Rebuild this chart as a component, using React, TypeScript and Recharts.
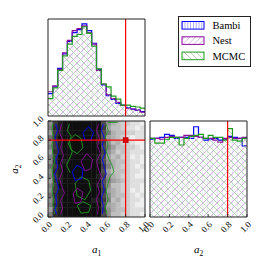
import React from "react";
import { ComposedChart, Area, Line, Scatter, XAxis, YAxis, ReferenceLine, ReferenceDot, Legend } from "recharts";

const SIZE = 266;
const FONT = "'Liberation Serif', 'DejaVu Serif', serif";
const INK = "#222222";
const RED = "#ff0000";

const SERIES = [
  { key: "bambi", name: "Bambi", color: "#0000ff", hatch: "vert" },
  { key: "nest", name: "Nest", color: "#8b0a9b", hatch: "fwd" },
  { key: "mcmc", name: "MCMC", color: "#1f9a1f", hatch: "back" },
];

const BIN_EDGES = [0, 0.05, 0.1, 0.15, 0.2, 0.25, 0.3, 0.35, 0.4, 0.45, 0.5, 0.55, 0.6, 0.65, 0.7, 0.75, 0.8, 0.85, 0.9, 0.95, 1];
const TICKS = [0, 0.2, 0.4, 0.6, 0.8, 1];
const TICK_LABELS = ["0.0", "0.2", "0.4", "0.6", "0.8", "1.0"];
const TRUE_A1 = 0.8;
const TRUE_A2 = 0.8;

// marginal histograms, heights as a fraction of the panel
const A1_BAMBI = [0.23, 0.3, 0.49, 0.64, 0.77, 0.86, 0.89, 0.95, 0.88, 0.75, 0.48, 0.32, 0.21, 0.17, 0.13, 0.11, 0.085, 0.07, 0.06, 0.045];
const A1_NEST = [0.25, 0.31, 0.48, 0.65, 0.78, 0.88, 0.9, 0.93, 0.86, 0.74, 0.47, 0.33, 0.22, 0.18, 0.14, 0.11, 0.08, 0.072, 0.062, 0.04];
const A1_MCMC = [0.18, 0.29, 0.47, 0.62, 0.74, 0.82, 0.84, 0.92, 0.855, 0.72, 0.485, 0.33, 0.3, 0.205, 0.175, 0.113, 0.113, 0.1, 0.093, 0.082];

const A2_BAMBI = [0.81, 0.82, 0.83, 0.86, 0.85, 0.82, 0.83, 0.83, 0.82, 0.94, 0.83, 0.8, 0.81, 0.82, 0.8, 0.81, 0.84, 0.83, 0.82, 0.74];
const A2_NEST = [0.82, 0.82, 0.81, 0.83, 0.84, 0.83, 0.83, 0.85, 0.85, 0.84, 0.83, 0.82, 0.82, 0.8, 0.78, 0.82, 0.83, 0.82, 0.82, 0.83];
const A2_MCMC = [0.82, 0.77, 0.77, 0.81, 0.83, 0.83, 0.75, 0.82, 0.84, 0.85, 0.86, 0.82, 0.85, 0.83, 0.83, 0.8, 0.92, 0.8, 0.79, 0.82];

// 2D density, one hex digit per cell (0 white .. f black), rows from a2=1 down to a2=0
const DENSITY_ROWS = [
  "7ceffffffffb75433221",
  "8deffffffffc64432212",
  "6cefffffffeb85443322",
  "9dffffffffeb65432122",
  "7cefffffffec74533211",
  "8ceffffffffb86443321",
  "6deffffffffc75343222",
  "8cffffffffeb64533121",
  "7dfeffffffeb75443221",
  "9ceffffffffc85433212",
  "7deffffffffb64443221",
  "8cefffffffec75433211",
  "6deffffffffb86543222",
  "8cffffffffeb74433221",
  "7ceffffffffc65433121",
  "9deffffffffb75443212",
  "7ceffffffeec84533221",
  "8deffffffffb65433211",
  "6ceffffffffc75443222",
  "8deffffffffb74433221",
];

// contour lines of the 2D panel, [a1, a2]
const CONTOURS = [
  { s: "mcmc", pts: [[0.05, 0.97], [0.04, 0.9], [0.06, 0.82], [0.04, 0.75], [0.05, 0.66], [0.07, 0.58], [0.04, 0.5], [0.05, 0.42], [0.06, 0.35], [0.04, 0.27], [0.06, 0.2], [0.05, 0.12], [0.08, 0.07], [0.06, 0.03]] },
  { s: "bambi", pts: [[0.08, 0.97], [0.1, 0.9], [0.07, 0.83], [0.09, 0.76], [0.11, 0.68], [0.08, 0.6], [0.1, 0.52], [0.07, 0.45], [0.09, 0.37], [0.11, 0.3], [0.08, 0.22], [0.09, 0.14], [0.07, 0.08], [0.09, 0.03]] },
  { s: "nest", pts: [[0.14, 0.97], [0.12, 0.88], [0.15, 0.8], [0.13, 0.72], [0.16, 0.64], [0.13, 0.56], [0.15, 0.48], [0.12, 0.4], [0.14, 0.32], [0.17, 0.25], [0.13, 0.17], [0.15, 0.09], [0.13, 0.03]] },
  { s: "mcmc", pts: [[0.22, 0.97], [0.2, 0.9], [0.24, 0.84], [0.21, 0.76], [0.25, 0.68], [0.22, 0.6], [0.19, 0.54], [0.23, 0.46]] },
  { s: "nest", pts: [[0.52, 0.97], [0.5, 0.9], [0.53, 0.82], [0.51, 0.74], [0.54, 0.66], [0.5, 0.58], [0.52, 0.5], [0.55, 0.42], [0.51, 0.34], [0.53, 0.26], [0.5, 0.18], [0.52, 0.1], [0.51, 0.03]] },
  { s: "bambi", pts: [[0.57, 0.97], [0.55, 0.9], [0.58, 0.83], [0.56, 0.75], [0.59, 0.67], [0.56, 0.6], [0.58, 0.52], [0.6, 0.45], [0.56, 0.37], [0.58, 0.28], [0.55, 0.2], [0.57, 0.12], [0.56, 0.03]] },
  { s: "mcmc", pts: [[0.6, 0.97], [0.62, 0.9], [0.59, 0.83], [0.62, 0.76], [0.6, 0.68], [0.63, 0.6], [0.66, 0.54], [0.68, 0.47], [0.64, 0.42], [0.62, 0.35], [0.6, 0.27], [0.62, 0.18], [0.59, 0.1], [0.61, 0.03]] },
  { s: "mcmc", pts: [[0.62, 0.985], [0.72, 0.985]] },
  { s: "mcmc", pts: [[0.22, 0.8], [0.28, 0.86], [0.34, 0.82], [0.36, 0.72], [0.3, 0.66], [0.24, 0.7], [0.22, 0.8]] },
  { s: "mcmc", pts: [[0.28, 0.35], [0.34, 0.42], [0.42, 0.38], [0.44, 0.28], [0.38, 0.18], [0.3, 0.22], [0.28, 0.35]] },
  { s: "mcmc", pts: [[0.3, 0.12], [0.36, 0.16], [0.44, 0.12], [0.42, 0.05], [0.34, 0.04], [0.3, 0.12]] },
  { s: "nest", pts: [[0.34, 0.58], [0.4, 0.66], [0.46, 0.6], [0.44, 0.5], [0.38, 0.48], [0.34, 0.58]] },
  { s: "nest", pts: [[0.26, 0.24], [0.3, 0.3], [0.36, 0.26], [0.34, 0.16], [0.28, 0.14], [0.26, 0.24]] },
  { s: "bambi", pts: [[0.25, 0.47], [0.3, 0.54], [0.36, 0.5], [0.35, 0.4], [0.28, 0.38], [0.25, 0.47]] },
  { s: "bambi", pts: [[0.36, 0.88], [0.42, 0.94], [0.47, 0.88], [0.44, 0.8], [0.38, 0.8], [0.36, 0.88]] },
];

const colorOf = (key: string) => SERIES.find((s) => s.key === key)!.color;

const histTable = (bambi: number[], nest: number[], mcmc: number[]) =>
  BIN_EDGES.map((x, i) => {
    const j = Math.min(i, bambi.length - 1);
    return { x, bambi: bambi[j], nest: nest[j], mcmc: mcmc[j] };
  });

const densityCells = DENSITY_ROWS.flatMap((row, r) =>
  row.split("").map((ch, c) => ({
    x: (BIN_EDGES[c] + BIN_EDGES[c + 1]) / 2,
    y: (BIN_EDGES[19 - r] + BIN_EDGES[20 - r]) / 2,
    v: parseInt(ch, 16),
  }))
);

const hatchDefs = (id: string) => (
  <defs>
    <pattern id={`${id}-vert`} width={5} height={5} patternUnits="userSpaceOnUse">
      <path d="M2.5,0 V5" stroke="#7a7aff" strokeWidth={0.6} strokeOpacity={0.25} />
    </pattern>
    <pattern id={`${id}-fwd`} width={7} height={7} patternUnits="userSpaceOnUse">
      <path d="M-1,1 L1,-1 M0,7 L7,0 M6,8 L8,6" stroke="#c690d2" strokeWidth={0.7} />
    </pattern>
    <pattern id={`${id}-back`} width={7} height={7} patternUnits="userSpaceOnUse">
      <path d="M-1,6 L1,8 M0,0 L7,7 M6,-1 L8,1" stroke="#93cf93" strokeWidth={0.7} />
    </pattern>
  </defs>
);

const tickText = { fontSize: 9, fontFamily: FONT, fill: "#000" };

const XTick = (p: any) => {
  const label = TICK_LABELS[TICKS.indexOf(p.payload.value)];
  const cx = p.x - 1.5;
  const cy = p.y + 10;
  return (
    <text x={cx} y={cy} textAnchor="middle" dominantBaseline="central" transform={`rotate(-45 ${cx} ${cy})`} {...tickText}>
      {label}
    </text>
  );
};

const YTick = (p: any) => {
  const label = TICK_LABELS[TICKS.indexOf(p.payload.value)];
  const cx = p.x - 10;
  const cy = p.y + 0.5;
  return (
    <text x={cx} y={cy} textAnchor="middle" dominantBaseline="central" transform={`rotate(-45 ${cx} ${cy})`} {...tickText}>
      {label}
    </text>
  );
};

const titleText = (sub: string, x: number, y: number, rotate?: number) => (
  <text x={x} y={y} textAnchor="middle" transform={rotate ? `rotate(${rotate} ${x} ${y})` : undefined} fontFamily={FONT} fontSize={11} fill="#000">
    <tspan fontStyle="italic">a</tspan>
    <tspan fontSize={7.5} dy={2.5}>{sub}</tspan>
  </text>
);

const xTitle = (sub: string) => (props: any) => {
  const vb = props.viewBox;
  return titleText(sub, vb.x + vb.width / 2, vb.y + 36);
};

// y title anchored at a2 = 0.5 on the left edge of the joint panel
const yTitle = (sub: string) => (props: any) => {
  const vb = props.viewBox;
  return titleText(sub, vb.x + (vb.width || 0) / 2 - 30, vb.y + (vb.height || 0) / 2, -90);
};

// axes are 1px deep (zero-sized axes are not drawn), so margins are one less than the frame position
const frameAxes = (opts: { xLabels?: boolean; yLabels?: boolean; xTitle?: string; yKey?: string }) => {
  const common = {
    type: "number" as const,
    domain: [0, 1],
    ticks: TICKS,
    interval: 0 as const,
    allowDataOverflow: true,
    tickSize: -3,
    tickMargin: 3,
    axisLine: { stroke: INK, strokeWidth: 1 },
    tickLine: { stroke: INK, strokeWidth: 0.8 },
  };
  return [
    <XAxis key="b" xAxisId="b" orientation="bottom" dataKey="x" height={1} {...common}
      tick={opts.xLabels ? (p: any) => <XTick {...p} /> : false}
      label={opts.xTitle ? xTitle(opts.xTitle) : undefined} />,
    <XAxis key="t" xAxisId="t" orientation="top" dataKey="x" height={1} {...common} tick={false} />,
    <YAxis key="l" yAxisId="l" orientation="left" dataKey={opts.yKey} width={1} {...common}
      tick={opts.yLabels ? (p: any) => <YTick {...p} /> : false} />,
    <YAxis key="r" yAxisId="r" orientation="right" dataKey={opts.yKey} width={1} {...common} tick={false} />,
  ];
};

const frameMargin = (left: number, top: number, right: number, bottom: number) => ({
  left: left - 1,
  top: top - 1,
  right: SIZE - right - 1,
  bottom: SIZE - bottom - 1,
});

const LegendBox = () => (
  <svg width={73} height={51} style={{ display: "block" }}>
    <defs>
      <pattern id="lg-vert" width={2.8} height={4} patternUnits="userSpaceOnUse">
        <path d="M1.4,0 V4" stroke="#6f6fff" strokeWidth={0.6} />
      </pattern>
      <pattern id="lg-fwd" width={5.5} height={5.5} patternUnits="userSpaceOnUse">
        <path d="M-1,1 L1,-1 M0,5.5 L5.5,0 M4.5,6.5 L6.5,4.5" stroke="#c690d2" strokeWidth={0.7} />
      </pattern>
      <pattern id="lg-back" width={6} height={6} patternUnits="userSpaceOnUse">
        <path d="M-1,5 L1,7 M0,0 L6,6 M5,-1 L7,1" stroke="#93cf93" strokeWidth={0.7} />
      </pattern>
    </defs>
    <rect x={0.5} y={0.5} width={72} height={50} fill="#fff" stroke={INK} strokeWidth={1} />
    {SERIES.map((s, i) => (
      <g key={s.key}>
        <rect x={4} y={5.5 + i * 15.3} width={22} height={7.6} fill={`url(#lg-${s.hatch})`} stroke={s.color} strokeWidth={1} />
        <text x={34.5} y={9.4 + i * 15.3} dominantBaseline="central" fontFamily={FONT} fontSize={10.5} fill="#000">
          {s.name}
        </text>
      </g>
    ))}
  </svg>
);

function HistPanel(props: { id: string; data: any[]; margin: any; xTitle?: string; truth: number; legend?: boolean }) {
  return (
    <ComposedChart width={SIZE} height={SIZE} data={props.data} margin={props.margin}>
      {hatchDefs(props.id)}
      {frameAxes({ xLabels: !!props.xTitle, xTitle: props.xTitle })}
      {SERIES.map((s) => (
        <Area
          key={s.key}
          xAxisId="b"
          yAxisId="l"
          type="stepAfter"
          dataKey={s.key}
          name={s.name}
          stroke={s.color}
          strokeWidth={1.2}
          fill={`url(#${props.id}-${s.hatch})`}
          fillOpacity={1}
          dot={false}
          activeDot={false}
          isAnimationActive={false}
        />
      ))}
      <ReferenceLine xAxisId="b" yAxisId="l" x={props.truth} stroke={RED} strokeWidth={1.2} />
      {props.legend && (
        <Legend
          layout="horizontal"
          verticalAlign="middle"
          align="center"
          wrapperStyle={{ left: 178, top: 16, width: 73, height: 51, lineHeight: 0 }}
          content={() => <LegendBox />}
        />
      )}
    </ComposedChart>
  );
}

function JointPanel() {
  const cell = 97 / 20 + 0.4;
  return (
    <ComposedChart width={SIZE} height={SIZE} margin={frameMargin(48, 121, 145, 217)}>
      {frameAxes({ xLabels: true, yLabels: true, xTitle: "1", yKey: "y" })}
      <Scatter
        xAxisId="b"
        yAxisId="l"
        data={densityCells}
        isAnimationActive={false}
        zIndex={50}
        shape={(p: any) => {
          const g = 255 - p.payload.v * 16;
          return <rect x={p.cx - cell / 2} y={p.cy - cell / 2} width={cell} height={cell} fill={`rgb(${g},${g},${g})`} />;
        }}
      />
      {CONTOURS.map((c, i) => (
        <Line
          key={i}
          xAxisId="b"
          yAxisId="l"
          data={c.pts.map(([x, y]) => ({ x, y }))}
          dataKey="y"
          type="linear"
          stroke={colorOf(c.s)}
          strokeWidth={0.9}
          dot={false}
          activeDot={false}
          isAnimationActive={false}
        />
      ))}
      <ReferenceLine xAxisId="b" yAxisId="l" x={TRUE_A1} stroke={RED} strokeWidth={1.2} />
      <ReferenceLine xAxisId="b" yAxisId="l" y={TRUE_A2} stroke={RED} strokeWidth={1.2} />
      <Scatter
        xAxisId="b"
        yAxisId="l"
        data={[{ x: TRUE_A1, y: TRUE_A2 }]}
        isAnimationActive={false}
        shape={(p: any) => <rect x={p.cx - 2.5} y={p.cy - 2.5} width={5} height={5} fill="#e00000" stroke="#a00000" strokeWidth={0.6} />}
      />
      <ReferenceDot xAxisId="b" yAxisId="l" x={0} y={0.5} r={0} fill="none" stroke="none" ifOverflow="visible" label={yTitle("2")} />
    </ComposedChart>
  );
}

export default function App() {
  const layer = { position: "absolute" as const, left: 0, top: 0 };
  return (
    <div style={{ position: "absolute", left: 0, top: 0, width: SIZE, height: SIZE, background: "#fff", overflow: "hidden" }}>
      <div style={layer}>
        <HistPanel
          id="tl"
          data={histTable(A1_BAMBI, A1_NEST, A1_MCMC)}
          margin={frameMargin(48, 19, 145, 116)}
          truth={TRUE_A1}
          legend
        />
      </div>
      <div style={layer}>
        <JointPanel />
      </div>
      <div style={layer}>
        <HistPanel
          id="br"
          data={histTable(A2_BAMBI, A2_NEST, A2_MCMC)}
          margin={frameMargin(150, 121, 247, 217)}
          xTitle="2"
          truth={TRUE_A2}
        />
      </div>
    </div>
  );
}
